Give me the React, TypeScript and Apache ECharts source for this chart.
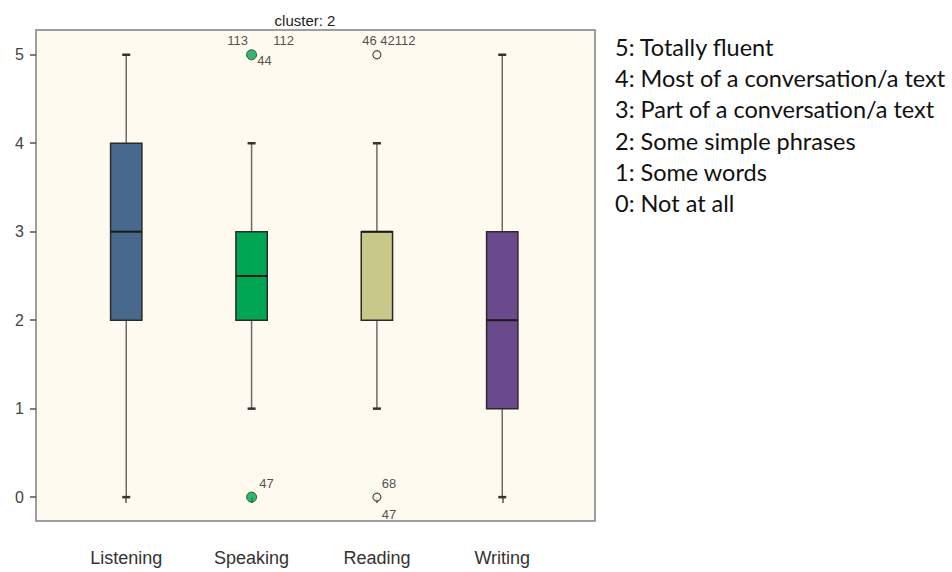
import React, { useEffect, useRef } from "react";
import * as echarts from "echarts";

const categories = ["Listening", "Speaking", "Reading", "Writing"];
// [min, Q1, median, Q3, max]
const boxValues = [
  [0, 2, 3, 4, 5],
  [1, 2, 2.5, 3, 4],
  [1, 2, 3, 3, 4],
  [0, 1, 2, 3, 5],
];
const boxColors = ["#48698e", "#00a651", "#c8c88b", "#6a4a8d"];
const yTicks = [0, 1, 2, 3, 4, 5];
// outliers: [category index (1-based), value, filled?]
const outliers: [number, number, boolean][] = [
  [2, 5, true],
  [2, 0, true],
  [3, 5, false],
  [3, 0, false],
];
// outlier labels: [category, value, text, dx, dy]
const outlierLabels: [number, number, string, number, number][] = [
  [2, 5, "113", -14, -14],
  [2, 5, "112", 32, -14],
  [2, 5, "44", 13, 6],
  [2, 0, "47", 15, -14],
  [3, 5, "46 42112", 12, -14],
  [3, 0, "68", 12, -14],
  [3, 0, "47", 12, 17],
];
const legendLines = [
  "5: Totally fluent",
  "4: Most of a conversation/a text",
  "3: Part of a conversation/a text",
  "2: Some simple phrases",
  "1: Some words",
  "0: Not at all",
];

export default function App() {
  const ref = useRef<HTMLDivElement>(null);
  useEffect(() => {
    document.body.style.margin = "0";
    const chart = echarts.init(ref.current!, null, { renderer: "svg" });
    const boxData = boxValues.map((v, i) => [i + 1, ...v]);
    chart.setOption({
      animation: false,
      backgroundColor: "#ffffff",
      title: {
        text: "cluster: 2",
        left: 300,
        top: 8,
        textAlign: "center",
        textStyle: {
          fontFamily: "Liberation Sans Narrow, Liberation Sans, Arial",
          fontSize: 15,
          fontWeight: "normal",
          color: "#222",
        },
      },
      grid: {
        left: 36,
        top: 30,
        width: 559,
        height: 491,
        show: true,
        backgroundColor: "#fffaf0",
        borderColor: "#808080",
        borderWidth: 1.5,
      },
      xAxis: {
        type: "value",
        min: 0.28,
        max: 4.74,
        splitLine: { show: false },
        axisLine: { show: false },
        axisTick: {
          show: true,
          customValues: [1, 2, 3, 4],
          length: 6,
          lineStyle: { color: "#555", width: 1.5 },
        },
        axisLabel: {
          customValues: [1, 2, 3, 4],
          formatter: (v: number) => categories[Math.round(v) - 1] ?? "",
          margin: 28,
          fontSize: 18,
          color: "#333",
          fontFamily: "Liberation Sans, Arial",
        },
      },
      yAxis: {
        type: "value",
        min: -0.27,
        max: 5.28,
        splitLine: { show: false },
        axisLine: { show: false },
        axisTick: {
          show: true,
          customValues: yTicks,
          length: 6,
          lineStyle: { color: "#555", width: 1.5 },
        },
        axisLabel: {
          customValues: yTicks,
          margin: 12,
          fontSize: 16,
          color: "#444",
          fontFamily: "Liberation Sans, Arial",
        },
      },
      series: [
        {
          type: "custom",
          data: boxData,
          encode: { x: 0, y: [1, 2, 3, 4, 5] },
          renderItem: (params: any, api: any) => {
            const x = api.value(0);
            const mn = api.value(1), q1 = api.value(2), md = api.value(3), q3 = api.value(4), mx = api.value(5);
            const w = api.size([0.25, 0])[0];
            const pMin = api.coord([x, mn]);
            const pQ1 = api.coord([x, q1]);
            const pMd = api.coord([x, md]);
            const pQ3 = api.coord([x, q3]);
            const pMax = api.coord([x, mx]);
            const cx = pMin[0];
            const cap = 4;
            const wl = { stroke: "#6b6b6b", lineWidth: 1.5 };
            const capStyle = { stroke: "#333", lineWidth: 2.5 };
            const children: any[] = [
              { type: "line", shape: { x1: cx, y1: pMin[1], x2: cx, y2: pQ1[1] }, style: wl },
              { type: "line", shape: { x1: cx, y1: pQ3[1], x2: cx, y2: pMax[1] }, style: wl },
              { type: "line", shape: { x1: cx - cap, y1: pMin[1], x2: cx + cap, y2: pMin[1] }, style: capStyle },
              { type: "line", shape: { x1: cx - cap, y1: pMax[1], x2: cx + cap, y2: pMax[1] }, style: capStyle },
              {
                type: "rect",
                shape: { x: cx - w / 2, y: pQ3[1], width: w, height: pQ1[1] - pQ3[1] },
                style: { fill: boxColors[params.dataIndex], stroke: "#2a2a2a", lineWidth: 1.5 },
              },
              {
                type: "line",
                shape: { x1: cx - w / 2, y1: pMd[1], x2: cx + w / 2, y2: pMd[1] },
                style: { stroke: "#1a1a1a", lineWidth: 2 },
              },
            ];
            return { type: "group", children };
          },
          z: 2,
        },
        {
          type: "scatter",
          data: outliers.map(([c, v, filled]) => ({
            value: [c, v],
            symbolSize: filled ? 10 : 8,
            itemStyle: filled
              ? { color: "#00a651", borderColor: "#1a3a1a", borderWidth: 1 }
              : { color: "#fffaf0", borderColor: "#222", borderWidth: 1.2 },
          })),
          z: 3,
        },
        {
          type: "scatter",
          symbolSize: 0,
          data: outlierLabels.map(([c, v, t, dx, dy]) => ({
            value: [c, v],
            label: {
              show: true,
              formatter: t,
              offset: [dx, dy],
              position: "inside",
              fontSize: 13,
              color: "#222",
              fontFamily: "Liberation Sans Narrow, Liberation Sans, Arial",
            },
          })),
          z: 4,
        },
      ],
      graphic: legendLines.map((t, i) => ({
        type: "text",
        left: 615,
        top: 35 + i * 31.2,
        style: {
          text: t,
          fontSize: 23.5,
          fill: "#111",
          fontFamily: "Lato, Open Sans, sans-serif",
        },
      })),
    });
    return () => chart.dispose();
  }, []);
  return <div ref={ref} style={{ width: 952, height: 572 }} />;
}
